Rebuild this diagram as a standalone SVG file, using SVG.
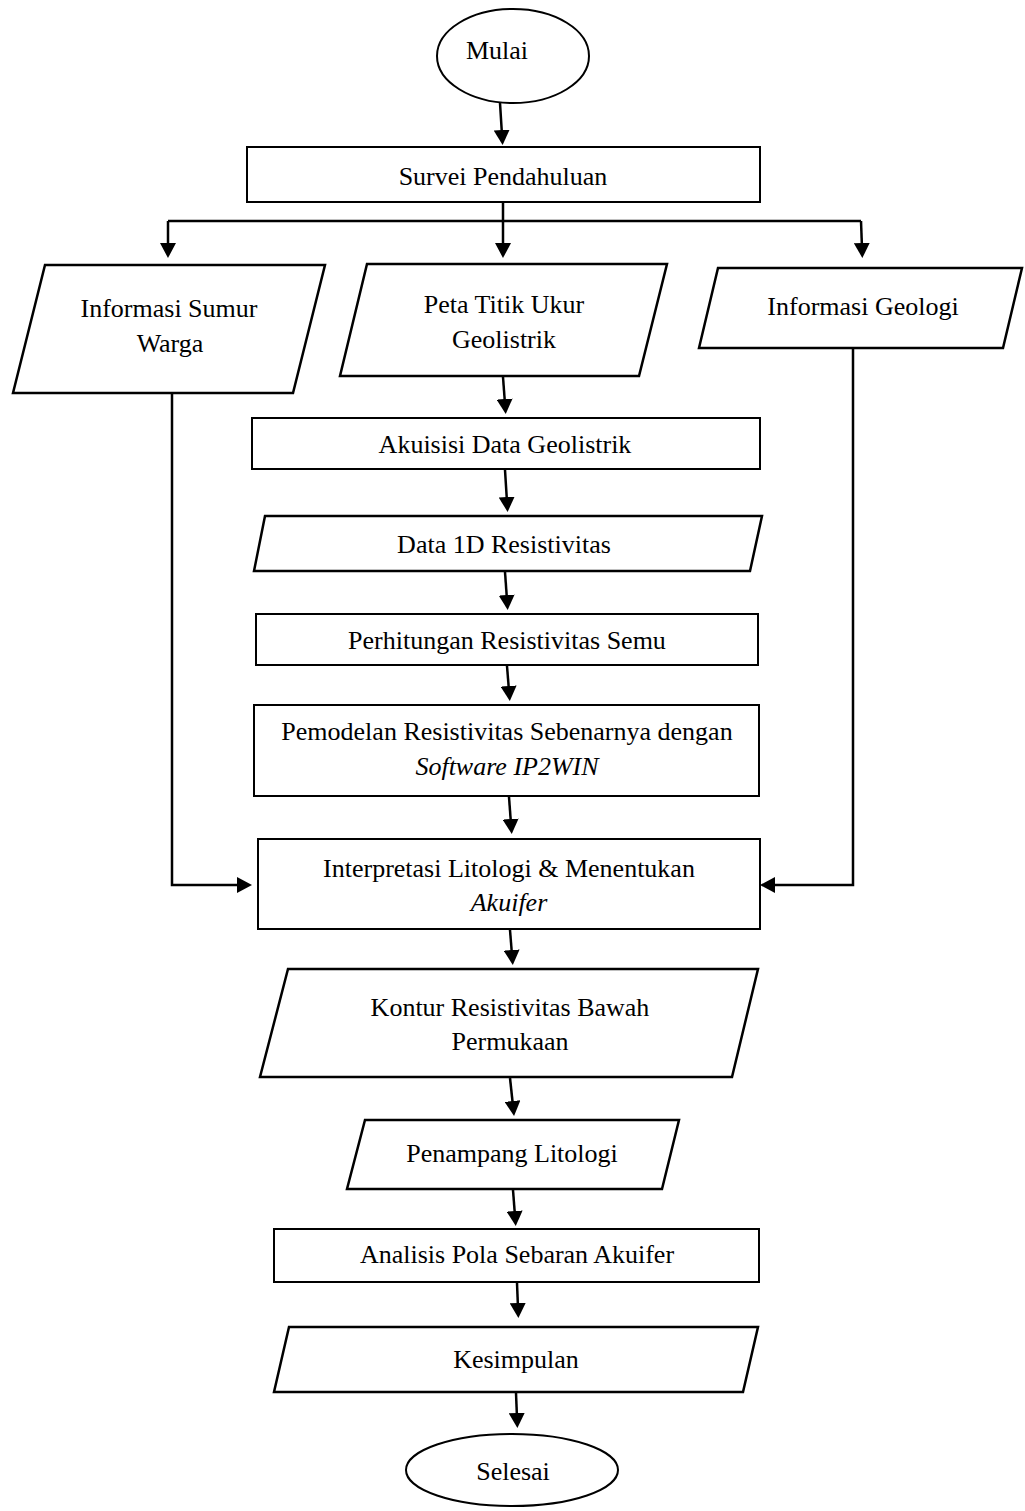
<svg xmlns="http://www.w3.org/2000/svg" width="1025" height="1511" viewBox="0 0 1025 1511">
<style>
.s{fill:#fff;stroke:#000;stroke-width:2}
.p{fill:#fff;stroke:#000;stroke-width:2.5}
.t{font-family:"Liberation Serif","Times New Roman",serif;font-size:26px;fill:#000;text-anchor:middle}
.i{font-style:italic}
.c{fill:none;stroke:#000;stroke-width:2.5}
.a{fill:none;stroke:#000;stroke-width:2.5;marker-end:url(#ah)}
</style>
<defs>
<marker id="ah" markerUnits="userSpaceOnUse" markerWidth="16" markerHeight="16" refX="5" refY="8" orient="auto">
<path d="M0,0 L15,8 L0,16 z" fill="#000"/>
</marker>
</defs>
<rect width="1025" height="1511" fill="#fff"/>
<g id="connectors">
<path class="a" d="M500,103 L502,135"/>
<path class="c" d="M503,202 L503,221 M168,221 L861,221"/>
<path class="a" d="M168,221 L168,248"/>
<path class="a" d="M503,221 L503,248"/>
<path class="a" d="M861,221 L862,248"/>
<path class="a" d="M503,377 L505,404"/>
<path class="a" d="M505,470 L507,502"/>
<path class="a" d="M505,572 L507,600"/>
<path class="a" d="M507,666 L509,691"/>
<path class="a" d="M509,797 L511,824"/>
<path class="a" d="M172,393 L172,885 L242,885"/>
<path class="a" d="M853,348 L853,885 L770,885"/>
<path class="a" d="M510,930 L512,955"/>
<path class="a" d="M510,1078 L513,1106"/>
<path class="a" d="M513,1190 L515,1216"/>
<path class="a" d="M517,1283 L518,1308"/>
<path class="a" d="M516,1393 L517,1418"/>
</g>
<g id="mulai"><ellipse class="s" cx="513" cy="56" rx="76" ry="47"/><text class="t" x="497" y="59">Mulai</text></g>
<g id="survei"><rect class="s" x="247" y="147" width="513" height="55"/><text class="t" x="503" y="185">Survei Pendahuluan</text></g>
<g id="sumur"><polygon class="p" points="45,265 325,265 293,393 13,393"/><text class="t" x="169" y="317">Informasi Sumur</text><text class="t" x="170" y="352">Warga</text></g>
<g id="peta"><polygon class="p" points="367,264 667,264 639,376 340,376"/><text class="t" x="504" y="313">Peta Titik Ukur</text><text class="t" x="504" y="348">Geolistrik</text></g>
<g id="geologi"><polygon class="p" points="718,268 1022,268 1003,348 699,348"/><text class="t" x="863" y="315">Informasi Geologi</text></g>
<g id="akuisisi"><rect class="s" x="252" y="418" width="508" height="51"/><text class="t" x="505" y="453">Akuisisi Data Geolistrik</text></g>
<g id="data1d"><polygon class="p" points="265,516 762,516 750,571 254,571"/><text class="t" x="504" y="553">Data 1D Resistivitas</text></g>
<g id="perhitungan"><rect class="s" x="256" y="614" width="502" height="51"/><text class="t" x="507" y="649">Perhitungan Resistivitas Semu</text></g>
<g id="pemodelan"><rect class="s" x="254" y="705" width="505" height="91"/><text class="t" x="507" y="740">Pemodelan Resistivitas Sebenarnya dengan</text><text class="t i" x="507" y="775">Software IP2WIN</text></g>
<g id="interpretasi"><rect class="s" x="258" y="839" width="502" height="90"/><text class="t" x="509" y="877">Interpretasi Litologi &amp; Menentukan</text><text class="t i" x="509" y="911">Akuifer</text></g>
<g id="kontur"><polygon class="p" points="288,969 758,969 732,1077 260,1077"/><text class="t" x="510" y="1016">Kontur Resistivitas Bawah</text><text class="t" x="510" y="1050">Permukaan</text></g>
<g id="penampang"><polygon class="p" points="365,1120 679,1120 662,1189 347,1189"/><text class="t" x="512" y="1162">Penampang Litologi</text></g>
<g id="analisis"><rect class="s" x="274" y="1229" width="485" height="53"/><text class="t" x="517" y="1263">Analisis Pola Sebaran Akuifer</text></g>
<g id="kesimpulan"><polygon class="p" points="289,1327 758,1327 743,1392 274,1392"/><text class="t" x="516" y="1368">Kesimpulan</text></g>
<g id="selesai"><ellipse class="s" cx="512" cy="1470" rx="106" ry="36"/><text class="t" x="513" y="1480">Selesai</text></g>
</svg>
